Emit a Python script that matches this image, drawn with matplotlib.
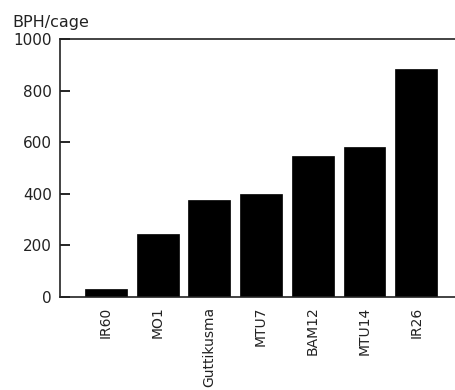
import matplotlib
matplotlib.use("Agg")
import matplotlib.pyplot as plt

# BPH counts per cage for each rice variety
varieties = ["IR60", "MO1", "Guttikusma", "MTU7", "BAM12", "MTU14", "IR26"]
bph_per_cage = [31, 245, 377, 400, 548, 583, 882]
y_ticks = [0, 200, 400, 600, 800, 1000]

plt.rcParams["font.family"] = "DejaVu Sans"

fig = plt.figure(figsize=(4.55, 3.9), dpi=100)
ax = fig.add_axes([60 / 455, 93 / 390, 395 / 455, 258 / 390])

x = list(range(len(varieties)))
ax.bar(x, bph_per_cage, width=0.81, color="black", edgecolor="black", linewidth=0.5)

ax.set_xlim(-0.89, 6.75)
ax.set_ylim(0, 1000)
ax.set_yticks(y_ticks)
ax.set_yticklabels([str(v) for v in y_ticks], fontsize=11, color="#222222")
ax.set_xticks(x)
ax.set_xticklabels(varieties, rotation=90, fontsize=10, color="#222222")

ax.tick_params(axis="y", direction="in", length=7, width=1.2, pad=6)
ax.tick_params(axis="x", length=0, pad=7)

ax.spines["right"].set_visible(False)
for side in ("left", "top", "bottom"):
    ax.spines[side].set_linewidth(1.2)
    ax.spines[side].set_color("#222222")

fig.text(12 / 455, 1 - 22 / 390, "BPH/cage", fontsize=11.5, va="center", ha="left",
         color="#222222")

fig.savefig("out.png", dpi=100)
